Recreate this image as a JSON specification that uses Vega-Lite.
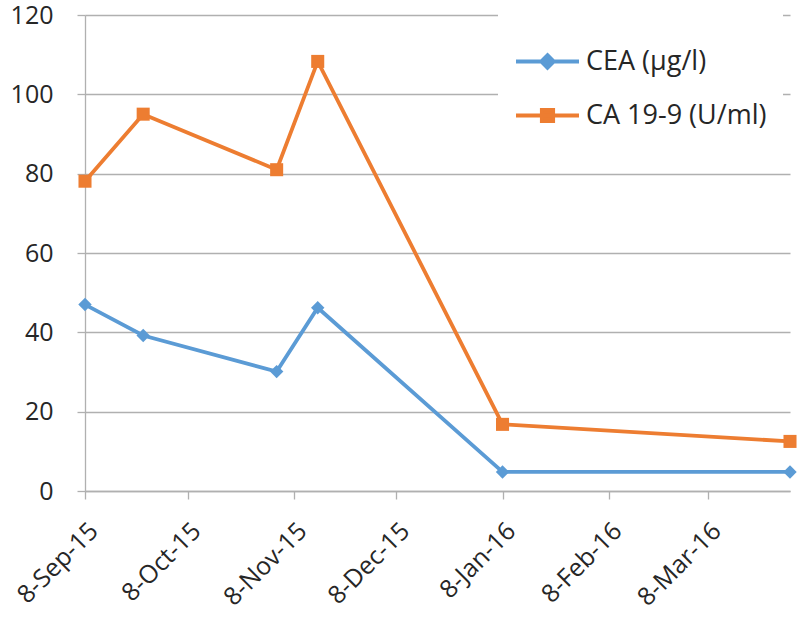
{
  "$schema": "https://vega.github.io/schema/vega-lite/v6.json",
  "autosize": {"type": "none"},
  "width": 705,
  "height": 476,
  "padding": {"left": 85, "top": 15, "right": 10, "bottom": 127},
  "background": "white",
  "config": {
    "view": {"stroke": null},
    "font": "Open Sans"
  },
  "data": {
    "values": [
      {"date": "2015-09-08", "series": "CEA (µg/l)", "value": 47.0},
      {"date": "2015-09-25", "series": "CEA (µg/l)", "value": 39.2},
      {"date": "2015-11-03", "series": "CEA (µg/l)", "value": 30.1},
      {"date": "2015-11-15", "series": "CEA (µg/l)", "value": 46.2},
      {"date": "2016-01-08", "series": "CEA (µg/l)", "value": 4.8},
      {"date": "2016-04-01", "series": "CEA (µg/l)", "value": 4.8},
      {"date": "2015-09-08", "series": "CA 19-9 (U/ml)", "value": 78.1},
      {"date": "2015-09-25", "series": "CA 19-9 (U/ml)", "value": 95.0},
      {"date": "2015-11-03", "series": "CA 19-9 (U/ml)", "value": 81.0},
      {"date": "2015-11-15", "series": "CA 19-9 (U/ml)", "value": 108.3},
      {"date": "2016-01-08", "series": "CA 19-9 (U/ml)", "value": 16.8},
      {"date": "2016-04-01", "series": "CA 19-9 (U/ml)", "value": 12.5}
    ]
  },
  "encoding": {
    "x": {
      "field": "date",
      "type": "temporal",
      "scale": {
        "type": "utc",
        "domain": [
          {"year": 2015, "month": 9, "date": 8, "utc": true},
          {"year": 2016, "month": 4, "date": 1, "utc": true}
        ]
      },
      "axis": {
        "title": null,
        "grid": false,
        "values": [
          {"year": 2015, "month": 9, "date": 8, "utc": true},
          {"year": 2015, "month": 10, "date": 8, "utc": true},
          {"year": 2015, "month": 11, "date": 8, "utc": true},
          {"year": 2015, "month": 12, "date": 8, "utc": true},
          {"year": 2016, "month": 1, "date": 8, "utc": true},
          {"year": 2016, "month": 2, "date": 8, "utc": true},
          {"year": 2016, "month": 3, "date": 8, "utc": true}
        ],
        "labelExpr": "utcFormat(datum.value, '%-d-%b-%y')",
        "labelAngle": -45,
        "labelFontSize": 25,
        "labelColor": "#262626",
        "labelPadding": 19,
        "tickSize": 8,
        "tickColor": "#b0b0b0",
        "tickWidth": 1.3,
        "domainColor": "#b0b0b0",
        "domainWidth": 1.3,
        "labelOverlap": false,
        "labelFlush": false
      }
    },
    "y": {
      "field": "value",
      "type": "quantitative",
      "scale": {"domain": [0, 120], "nice": false, "zero": true},
      "axis": {
        "title": null,
        "values": [0, 20, 40, 60, 80, 100, 120],
        "grid": true,
        "gridColor": "#b0b0b0",
        "gridWidth": 1.3,
        "tickSize": 8,
        "tickColor": "#b0b0b0",
        "tickWidth": 1.3,
        "domainColor": "#b0b0b0",
        "domainWidth": 1.3,
        "labelFontSize": 25,
        "labelColor": "#262626",
        "labelPadding": 24,
        "labelFlush": false
      }
    }
  },
  "layer": [
    {
      "mark": {"type": "line", "strokeWidth": 3.8},
      "encoding": {
        "color": {
          "field": "series",
          "type": "nominal",
          "sort": ["CEA (µg/l)", "CA 19-9 (U/ml)"],
          "scale": {
            "domain": ["CEA (µg/l)", "CA 19-9 (U/ml)"],
            "range": ["#5B9BD5", "#ED7D31"]
          },
          "legend": {
            "title": null,
            "orient": "none",
            "legendX": 413,
            "legendY": -3,
            "padding": 16,
            "fillColor": "white",
            "strokeColor": null,
            "symbolSize": 3969,
            "labelFontSize": 27,
            "labelFont": "Open Sans",
            "labelColor": "#262626",
            "labelOffset": 5,
            "labelLimit": 400,
            "rowPadding": 6,
            "encode": {
              "symbols": {
                "update": {
                  "shape": {"signal": "datum.value === 'CEA (µg/l)' ? 'M-1,0H1M0,-0.2L0.2,0L0,0.2L-0.2,0Z' : 'M-1,0H1M-0.18,-0.18H0.18V0.18H-0.18Z'"},
                  "fill": {"signal": "datum.value === 'CEA (µg/l)' ? '#5B9BD5' : '#ED7D31'"},
                  "stroke": {"signal": "datum.value === 'CEA (µg/l)' ? '#5B9BD5' : '#ED7D31'"},
                  "strokeWidth": {"value": 3.8},
                  "opacity": {"value": 1},
                  "fillOpacity": {"value": 1}
                }
              }
            }
          }
        }
      }
    },
    {
      "transform": [{"filter": {"field": "series", "equal": "CEA (µg/l)"}}],
      "mark": {"type": "point", "filled": true, "opacity": 1, "size": 180, "shape": "diamond", "color": "#5B9BD5"}
    },
    {
      "transform": [{"filter": {"field": "series", "equal": "CA 19-9 (U/ml)"}}],
      "mark": {"type": "point", "filled": true, "opacity": 1, "size": 170, "shape": "square", "color": "#ED7D31"}
    }
  ]
}
